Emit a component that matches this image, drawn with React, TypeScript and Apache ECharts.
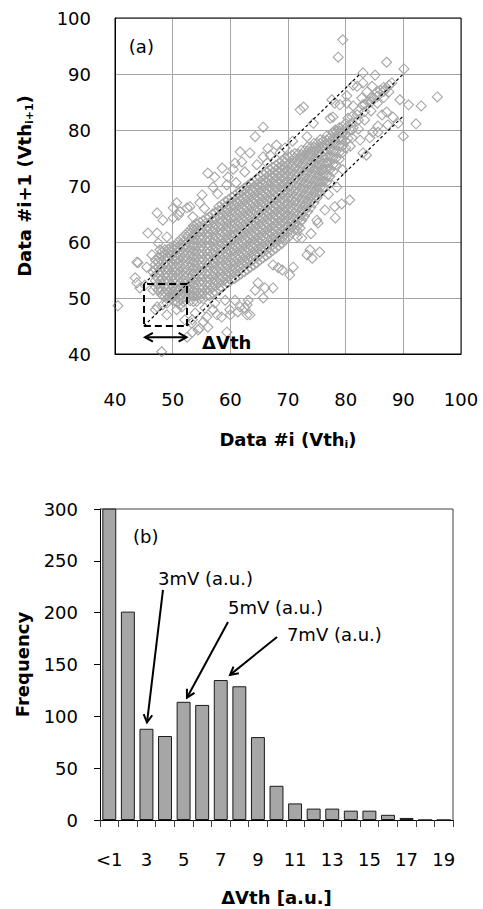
import React, { useEffect, useRef } from "react";
import * as echarts from "echarts";

const FONT = '"DejaVu Sans", sans-serif';

// ---------- (a) scatter: Data #i vs Data #i+1 ----------
const xTicksA = [40, 50, 60, 70, 80, 90, 100];
const yTicksA = [40, 50, 60, 70, 80, 90, 100];

// dense core of the cloud, read column by column: [x, [y...]]
const coreColumns: [number, number[]][] = [
  [47.0, [52.0, 53.1, 54.0, 55.1, 56.0, 56.8]],
  [48.1, [50.6, 51.5, 52.6, 53.5, 54.6, 55.5, 56.6, 57.5, 58.2]],
  [49.2, [50.1, 51.1, 52.0, 53.1, 54.0, 55.1, 56.0, 57.1, 58.0, 58.7]],
  [50.3, [49.5, 50.6, 51.5, 52.6, 53.5, 54.6, 55.5, 56.6, 57.5, 58.6, 59.3]],
  [51.4, [49.7, 50.7, 51.6, 52.7, 53.6, 54.7, 55.6, 56.7, 57.6, 58.7, 59.6, 60.5]],
  [52.5, [49.9, 51.0, 51.9, 53.0, 53.9, 55.0, 55.9, 57.0, 57.9, 59.0, 59.9, 61.0, 61.6]],
  [53.6, [49.4, 50.4, 51.3, 52.4, 53.3, 54.4, 55.3, 56.4, 57.3, 58.4, 59.3, 60.4, 61.3, 62.3, 62.9]],
  [54.7, [49.9, 50.9, 51.8, 52.9, 53.8, 54.9, 55.8, 56.9, 57.8, 58.9, 59.8, 60.9, 61.8, 62.8, 63.5]],
  [55.8, [50.3, 51.4, 52.3, 53.4, 54.3, 55.4, 56.3, 57.4, 58.3, 59.4, 60.3, 61.4, 62.3, 63.4, 64.2]],
  [56.9, [50.9, 51.9, 52.8, 53.9, 54.8, 55.9, 56.8, 57.9, 58.8, 59.9, 60.8, 61.9, 62.8, 63.9, 65.0]],
  [58.0, [51.7, 52.7, 53.6, 54.7, 55.6, 56.7, 57.6, 58.7, 59.6, 60.7, 61.6, 62.7, 63.6, 64.7, 65.6, 66.3]],
  [59.1, [52.4, 53.4, 54.3, 55.4, 56.3, 57.4, 58.3, 59.4, 60.3, 61.4, 62.3, 63.4, 64.3, 65.4, 66.3, 67.2]],
  [60.2, [53.2, 54.2, 55.1, 56.2, 57.1, 58.2, 59.1, 60.2, 61.1, 62.2, 63.1, 64.2, 65.1, 66.2, 67.1, 68.0]],
  [61.3, [53.9, 54.9, 55.8, 56.9, 57.8, 58.9, 59.8, 60.9, 61.8, 62.9, 63.8, 64.9, 65.8, 66.9, 67.8, 68.8]],
  [62.4, [54.7, 55.7, 56.6, 57.7, 58.6, 59.7, 60.6, 61.7, 62.6, 63.7, 64.6, 65.7, 66.6, 67.7, 68.6, 69.6]],
  [63.5, [55.5, 56.5, 57.4, 58.5, 59.4, 60.5, 61.4, 62.5, 63.4, 64.5, 65.4, 66.5, 67.4, 68.5, 69.4, 70.5]],
  [64.6, [56.3, 57.3, 58.2, 59.3, 60.2, 61.3, 62.2, 63.3, 64.2, 65.3, 66.2, 67.3, 68.2, 69.3, 70.2, 71.3]],
  [65.7, [57.2, 58.2, 59.1, 60.2, 61.1, 62.2, 63.1, 64.2, 65.1, 66.2, 67.1, 68.2, 69.1, 70.2, 71.1, 72.1]],
  [66.8, [58.0, 59.0, 59.9, 61.0, 61.9, 63.0, 63.9, 65.0, 65.9, 67.0, 67.9, 69.0, 69.9, 71.0, 71.9, 72.9]],
  [67.9, [58.9, 59.9, 60.8, 61.9, 62.8, 63.9, 64.8, 65.9, 66.8, 67.9, 68.8, 69.9, 70.8, 71.9, 72.8, 73.7]],
  [69.0, [59.8, 60.8, 61.7, 62.8, 63.7, 64.8, 65.7, 66.8, 67.7, 68.8, 69.7, 70.8, 71.7, 72.8, 73.7, 74.5]],
  [70.1, [60.9, 61.9, 62.8, 63.9, 64.8, 65.9, 66.8, 67.9, 68.8, 69.9, 70.8, 71.9, 72.8, 73.9, 75.2]],
  [71.2, [62.2, 63.2, 64.1, 65.2, 66.1, 67.2, 68.1, 69.2, 70.1, 71.2, 72.1, 73.2, 74.1, 75.0, 75.8]],
  [72.3, [63.8, 64.8, 65.7, 66.8, 67.7, 68.8, 69.7, 70.8, 71.7, 72.8, 73.7, 74.8, 75.6, 76.4]],
  [73.4, [65.4, 66.4, 67.3, 68.4, 69.3, 70.4, 71.3, 72.4, 73.3, 74.4, 75.3, 76.2, 77.0]],
  [74.5, [67.0, 68.0, 68.9, 70.0, 70.9, 72.0, 72.9, 74.0, 74.9, 76.0, 76.9, 77.6]],
  [75.6, [68.8, 69.8, 70.7, 71.8, 72.7, 73.8, 74.7, 75.8, 76.7, 77.6, 78.3]],
  [76.7, [70.7, 71.8, 72.9, 74.0, 75.1, 76.2, 77.3, 78.2, 78.9]],
  [77.8, [72.6, 73.8, 75.0, 76.2, 77.4, 78.5, 79.6]],
  [78.9, [74.8, 76.0, 77.2, 78.4, 79.5, 80.4]],
  [80.0, [76.8, 78.0, 79.2, 80.3, 81.2]],
  [81.1, [78.6, 80.0, 81.3, 82.4]],
  [82.2, [80.2, 81.8, 83.4]],
  [83.3, [81.8, 83.3, 84.6]],
  [84.4, [83.4, 85.0, 85.8]],
  [85.5, [84.8, 86.0, 86.8]],
  [86.6, [85.8, 86.9, 87.6]],
  [87.5, [86.8, 88.0]],
];

// second, interleaved pass over the core (the cloud is nearly solid there)
const coreColumnsB: [number, number[]][] = [
  [47.55, [51.5, 52.5, 53.5, 54.5, 55.5, 56.5, 57.3]],
  [48.65, [50.3, 51.0, 52.0, 53.0, 54.0, 55.0, 56.0, 57.0, 58.0, 58.6]],
  [49.75, [49.8, 50.6, 51.6, 52.5, 53.6, 54.5, 55.6, 56.5, 57.6, 58.5, 59.1]],
  [50.85, [49.2, 50.1, 51.0, 52.1, 53.0, 54.1, 55.0, 56.1, 57.0, 58.1, 59.0, 59.9]],
  [51.95, [49.3, 50.2, 51.2, 52.1, 53.2, 54.1, 55.2, 56.1, 57.2, 58.1, 59.2, 60.1, 61.0]],
  [53.05, [49.5, 50.4, 51.5, 52.4, 53.5, 54.4, 55.5, 56.4, 57.5, 58.4, 59.5, 60.4, 61.5, 62.2]],
  [54.15, [49.4, 50.4, 51.3, 52.4, 53.3, 54.4, 55.3, 56.4, 57.3, 58.4, 59.3, 60.4, 61.3, 62.3, 63.2]],
  [55.25, [49.9, 50.9, 51.8, 52.9, 53.8, 54.9, 55.8, 56.9, 57.8, 58.9, 59.8, 60.9, 61.8, 62.9, 63.8]],
  [56.35, [50.4, 51.4, 52.3, 53.4, 54.3, 55.4, 56.3, 57.4, 58.3, 59.4, 60.3, 61.4, 62.3, 63.4, 64.4]],
  [57.45, [51.1, 52.2, 53.1, 54.2, 55.1, 56.2, 57.1, 58.2, 59.1, 60.2, 61.1, 62.2, 63.1, 64.2, 65.3]],
  [58.55, [51.9, 52.9, 53.8, 54.9, 55.8, 56.9, 57.8, 58.9, 59.8, 60.9, 61.8, 62.9, 63.8, 64.9, 65.8, 66.7]],
  [59.65, [52.8, 53.8, 54.7, 55.8, 56.7, 57.8, 58.7, 59.8, 60.7, 61.8, 62.7, 63.8, 64.7, 65.8, 66.7, 67.5]],
  [60.75, [53.5, 54.5, 55.4, 56.5, 57.4, 58.5, 59.4, 60.5, 61.4, 62.5, 63.4, 64.5, 65.4, 66.5, 67.4, 68.3]],
  [61.85, [54.3, 55.3, 56.2, 57.3, 58.2, 59.3, 60.2, 61.3, 62.2, 63.3, 64.2, 65.3, 66.2, 67.3, 68.2, 69.1]],
  [62.95, [55.1, 56.1, 57.0, 58.1, 59.0, 60.1, 61.0, 62.1, 63.0, 64.1, 65.0, 66.1, 67.0, 68.1, 69.0, 70.0]],
  [64.05, [55.9, 56.9, 57.8, 58.9, 59.8, 60.9, 61.8, 62.9, 63.8, 64.9, 65.8, 66.9, 67.8, 68.9, 69.8, 70.8]],
  [65.15, [56.8, 57.8, 58.7, 59.8, 60.7, 61.8, 62.7, 63.8, 64.7, 65.8, 66.7, 67.8, 68.7, 69.8, 70.7, 71.6]],
  [66.25, [57.6, 58.6, 59.5, 60.6, 61.5, 62.6, 63.5, 64.6, 65.5, 66.6, 67.5, 68.6, 69.5, 70.6, 71.5, 72.4]],
  [67.35, [58.5, 59.5, 60.4, 61.5, 62.4, 63.5, 64.4, 65.5, 66.4, 67.5, 68.4, 69.5, 70.4, 71.5, 72.4, 73.3]],
  [68.45, [59.4, 60.4, 61.3, 62.4, 63.3, 64.4, 65.3, 66.4, 67.3, 68.4, 69.3, 70.4, 71.3, 72.4, 73.3, 74.1]],
  [69.55, [60.4, 61.4, 62.3, 63.4, 64.3, 65.4, 66.3, 67.4, 68.3, 69.4, 70.3, 71.4, 72.3, 73.4, 74.3, 75.0]],
  [70.65, [61.6, 62.6, 63.5, 64.6, 65.5, 66.6, 67.5, 68.6, 69.5, 70.6, 71.5, 72.6, 73.5, 74.5, 75.5]],
  [71.75, [63.0, 64.0, 64.9, 66.0, 66.9, 68.0, 68.9, 70.0, 70.9, 72.0, 72.9, 74.0, 74.8, 75.7]],
  [72.85, [64.6, 65.6, 66.5, 67.6, 68.5, 69.6, 70.5, 71.6, 72.5, 73.6, 74.5, 75.5, 76.3]],
  [73.95, [66.2, 67.2, 68.1, 69.2, 70.1, 71.2, 72.1, 73.2, 74.1, 75.2, 76.1, 76.9]],
  [75.05, [67.9, 68.9, 69.8, 70.9, 71.8, 72.9, 73.8, 74.9, 75.8, 76.8, 77.6]],
  [76.15, [69.8, 70.8, 71.8, 72.9, 74.0, 75.1, 76.2, 77.2, 78.1]],
  [77.25, [71.7, 72.9, 74.1, 75.3, 76.5, 77.6, 78.6]],
  [78.35, [73.8, 75.0, 76.2, 77.4, 78.6, 79.7]],
  [79.45, [76.0, 77.2, 78.4, 79.6, 80.6]],
];

const haloUpperLeft: number[][] = [
  [43.8, 56.4], [45.5, 55.5], [46.6, 54.6], [46.4, 57.7], [47.8, 58.6], [47.3, 61.6],
  [49.0, 60.9], [48.3, 63.9], [50.1, 64.3], [51.3, 65.4], [52.5, 66.1], [50.1, 66.1],
  [47.3, 65.2], [54.7, 67.0], [50.7, 67.0], [53.0, 66.3], [51.0, 64.8], [55.1, 68.4],
  [57.0, 69.8], [59.4, 70.2], [59.6, 71.6], [56.1, 72.3], [57.3, 71.6], [58.6, 73.2],
  [60.8, 74.1], [62.0, 74.3], [63.4, 75.9], [64.3, 78.8], [65.7, 75.2], [66.4, 74.1],
  [68.0, 77.3], [65.7, 80.5], [61.7, 76.1], [66.5, 76.7], [68.6, 75.9], [64.6, 73.8],
  [73.3, 78.8], [75.9, 77.0], [74.4, 81.2], [72.1, 83.6], [72.7, 84.1], [73.8, 75.9],
  [45.7, 61.6], [47.5, 59.8], [44.0, 56.3], [43.5, 53.6], [60.5, 73.0], [53.5, 64.5],
  [55.5, 66.0], [57.8, 68.6], [61.0, 70.6], [62.5, 72.5], [66.9, 75.5], [69.5, 76.8],
  [70.8, 78.0],
];

const haloLowerLeft: number[][] = [
  [43.8, 52.7], [44.3, 51.8], [45.2, 52.3], [46.6, 51.4], [47.3, 48.4], [49.0, 49.1],
  [50.1, 50.5], [50.7, 47.9], [51.6, 48.4], [40.5, 48.6], [48.1, 40.4], [47.5, 51.4],
  [48.3, 48.8], [47.0, 47.9], [49.0, 47.0], [51.3, 48.8], [49.5, 50.2], [51.0, 51.4],
  [52.7, 51.4], [53.4, 46.1], [53.9, 47.3], [55.6, 48.2], [57.3, 49.1], [59.1, 49.6],
  [60.8, 49.6], [61.3, 47.5], [59.9, 47.9], [62.9, 48.8], [58.5, 46.6], [55.3, 45.7],
  [54.4, 44.3], [53.4, 43.9], [56.1, 44.8], [59.4, 43.9], [60.0, 47.0], [61.7, 48.4],
  [62.9, 47.0], [57.7, 47.0], [57.0, 47.9], [55.9, 46.6], [54.7, 44.6], [52.1, 46.1],
  [53.3, 45.5], [52.5, 43.0],
];

const haloLowerRight: number[][] = [
  [67.4, 55.9], [68.3, 55.4], [70.9, 55.5], [70.3, 54.1], [73.3, 57.7], [74.2, 57.1],
  [75.5, 58.2], [73.8, 58.6], [64.8, 52.7], [64.3, 51.4], [66.0, 51.8], [67.4, 51.8],
  [65.7, 50.0], [63.1, 49.6], [62.5, 48.2], [63.4, 47.0], [69.0, 55.0], [78.2, 64.3],
  [75.2, 63.4], [78.1, 66.3], [80.7, 67.5], [76.4, 65.7], [71.6, 60.9], [72.1, 62.5],
  [75.0, 63.9], [79.3, 66.8], [77.3, 70.5], [75.9, 72.9], [79.5, 72.9], [76.8, 74.3],
  [83.6, 75.5], [72.4, 60.7], [71.6, 62.1], [72.4, 63.9], [74.0, 61.5], [77.0, 68.5],
  [78.5, 69.8], [83.0, 75.9],
];

const haloUpperRight: number[][] = [
  [78.2, 80.0], [78.2, 77.9], [80.4, 78.5], [82.5, 78.2], [84.7, 79.6], [85.6, 80.7],
  [87.3, 80.9], [86.3, 82.7], [84.2, 78.6], [90.0, 78.9], [92.2, 81.1], [89.1, 81.2],
  [85.6, 79.6], [77.6, 85.4], [80.2, 84.8], [78.1, 84.8], [77.3, 82.1], [83.0, 84.5],
  [81.3, 84.3], [82.0, 82.7], [82.8, 85.7], [80.2, 86.1], [82.0, 87.8], [84.6, 87.8],
  [84.8, 85.7], [88.0, 88.4], [86.8, 87.2], [81.3, 88.0], [83.7, 86.8], [86.0, 87.1],
  [79.0, 84.5], [77.8, 82.3], [83.0, 90.2], [85.1, 89.8], [87.1, 92.1], [90.1, 90.9],
  [78.7, 93.0], [79.5, 96.1], [95.9, 85.9], [90.9, 84.5], [93.1, 84.3], [80.8, 77.1],
  [81.3, 80.4], [79.0, 79.8], [77.8, 79.5], [80.4, 82.1], [83.9, 85.0], [87.1, 83.2],
  [88.2, 82.3], [89.4, 85.4], [83.0, 88.4],
];

// ---------- (b) histogram of ΔVth ----------
const dVthCategories = [
  "<1", "2", "3", "4", "5", "6", "7", "8", "9", "10",
  "11", "12", "13", "14", "15", "16", "17", "18", "19",
];
// first bin runs off the top of the 0–300 scale
const frequency = [330, 201, 88, 81, 114, 111, 135, 129, 80, 33, 16, 11, 11, 9, 9, 5, 2, 0, 0];

const GRID_A = { left: 115, top: 18, width: 346, height: 336 };
const GRID_B = { left: 100, top: 509, width: 353, height: 311 };

export default function App() {
  const ref = useRef<HTMLDivElement>(null);

  useEffect(() => {
    if (!ref.current) return;
    const chart = echarts.init(ref.current, null, { renderer: "svg" });

    const scatterData: number[][] = [
      ...coreColumns.flatMap(([x, ys]) => ys.map((y) => [x, y])),
      ...coreColumnsB.flatMap(([x, ys]) => ys.map((y) => [x, y])),
      ...haloUpperLeft,
      ...haloLowerLeft,
      ...haloLowerRight,
      ...haloUpperRight,
    ];

    const tickLabel = { fontFamily: FONT, fontSize: 18, color: "#000" };
    const titleRich = {
      t: { fontFamily: FONT, fontWeight: "bold", fontSize: 18, color: "#000" },
      s: { fontFamily: FONT, fontWeight: "bold", fontSize: 11, color: "#000", padding: [10, 0, 0, 0] },
    };

    const dash = { color: "#000", width: 1.2, type: [3, 2.5] };
    const boxDash = { color: "#000", width: 2, type: [7, 4] };

    chart.setOption({
      animation: false,
      backgroundColor: "#fff",
      grid: [
        { ...GRID_A, show: false },
        { ...GRID_B, show: false },
      ],
      xAxis: [
        {
          gridIndex: 0,
          type: "value",
          min: xTicksA[0],
          max: xTicksA[xTicksA.length - 1],
          interval: 10,
          axisLine: { show: true, onZero: false, lineStyle: { color: "#000", width: 1 } },
          axisTick: { show: false },
          splitLine: { show: true, lineStyle: { color: "#a6a6a6", width: 1 } },
          axisLabel: { ...tickLabel, margin: 36 },
          name: "{t|Data #i (Vth}{s|i}{t|)}",
          nameLocation: "middle",
          nameGap: 75,
          nameTextStyle: { rich: titleRich },
        },
        {
          gridIndex: 1,
          type: "category",
          data: dVthCategories,
          axisLine: { show: true, lineStyle: { color: "#000", width: 1 } },
          axisTick: { show: true, interval: 0, alignWithLabel: false, length: 7, lineStyle: { color: "#404040" } },
          axisLabel: { ...tickLabel, margin: 30, interval: 1 },
          splitLine: { show: false },
          name: "{t|ΔVth [a.u.]}",
          nameLocation: "middle",
          nameGap: 68,
          nameTextStyle: { rich: titleRich },
        },
      ],
      yAxis: [
        {
          gridIndex: 0,
          type: "value",
          min: yTicksA[0],
          max: yTicksA[yTicksA.length - 1],
          interval: 10,
          axisLine: { show: true, onZero: false, lineStyle: { color: "#000", width: 1 } },
          axisTick: { show: false },
          splitLine: { show: true, lineStyle: { color: "#a6a6a6", width: 1 } },
          axisLabel: { ...tickLabel, margin: 24 },
          name: "{t|Data #i+1 (Vth}{s|i+1}{t|)}",
          nameLocation: "middle",
          nameGap: 80,
          nameTextStyle: { rich: titleRich },
        },
        {
          gridIndex: 1,
          type: "value",
          min: 0,
          max: 300,
          interval: 50,
          axisLine: { show: true, lineStyle: { color: "#000", width: 1 } },
          axisTick: { show: true, length: 6, lineStyle: { color: "#000" } },
          splitLine: { show: false },
          axisLabel: { ...tickLabel, margin: 22 },
          name: "{t|Frequency}",
          nameLocation: "middle",
          nameGap: 69,
          nameTextStyle: { rich: titleRich },
        },
      ],
      series: [
        {
          type: "scatter",
          xAxisIndex: 0,
          yAxisIndex: 0,
          data: scatterData,
          symbol: "diamond",
          symbolSize: 10,
          itemStyle: { color: "rgba(0,0,0,0)", borderColor: "#a6a6a6", borderWidth: 1.1, opacity: 1 },
          silent: true,
          markLine: {
            silent: true,
            z: 10,
            symbol: ["none", "none"],
            label: { show: false },
            data: [
              [{ coord: [45, 52.5], lineStyle: dash }, { coord: [82.5, 90] }],
              [{ coord: [45, 45], lineStyle: dash }, { coord: [90, 90] }],
              [{ coord: [52.5, 45], lineStyle: dash }, { coord: [90, 82.5] }],
              [{ coord: [45, 45], lineStyle: boxDash }, { coord: [52.5, 45] }],
              [{ coord: [52.5, 45], lineStyle: boxDash }, { coord: [52.5, 52.5] }],
              [{ coord: [52.5, 52.5], lineStyle: boxDash }, { coord: [45, 52.5] }],
              [{ coord: [45, 52.5], lineStyle: boxDash }, { coord: [45, 45] }],
            ],
          },
        },
        {
          type: "bar",
          xAxisIndex: 1,
          yAxisIndex: 1,
          data: frequency,
          barCategoryGap: "25%",
          clip: true,
          itemStyle: { color: "#a6a6a6", borderColor: "#1a1a1a", borderWidth: 1 },
          silent: true,
        },
      ],
    });

    const pa = (v: number[]) => chart.convertToPixel({ gridIndex: 0 }, v) as number[];
    // category axis rounds fractional indices, so map the index linearly from the band width
    const band = GRID_B.width / dVthCategories.length;
    const pb = (v: number[]) => {
      const yPix = (chart.convertToPixel({ gridIndex: 1 }, [0, v[1]]) as number[])[1];
      return [GRID_B.left + (v[0] + 0.5) * band, yPix];
    };

    const arrowHead = (from: number[], to: number[], len = 9, ang = 0.5) => {
      const a = Math.atan2(to[1] - from[1], to[0] - from[0]);
      return [
        [to[0] - len * Math.cos(a - ang), to[1] - len * Math.sin(a - ang)],
        [to[0], to[1]],
        [to[0] - len * Math.cos(a + ang), to[1] - len * Math.sin(a + ang)],
      ];
    };
    const stroke = { stroke: "#000", lineWidth: 2, fill: "none" };
    const arrow = (from: number[], to: number[], both = false) => {
      const els: any[] = [
        { type: "line", shape: { x1: from[0], y1: from[1], x2: to[0], y2: to[1] }, style: stroke, z: 50 },
        { type: "polyline", shape: { points: arrowHead(from, to) }, style: stroke, z: 50 },
      ];
      if (both) els.push({ type: "polyline", shape: { points: arrowHead(to, from) }, style: stroke, z: 50 });
      return els;
    };
    const label = (pos: number[], text: string, bold = false) => ({
      type: "text",
      x: pos[0],
      y: pos[1],
      z: 50,
      style: {
        text,
        fill: "#000",
        fontFamily: FONT,
        fontSize: 18,
        fontWeight: bold ? "bold" : "normal",
        align: "left",
        verticalAlign: "middle",
      },
    });

    const a00 = pa([40, 100]);
    const a11 = pa([100, 40]);
    const bTop = GRID_B.top;
    const bBottom = GRID_B.top + GRID_B.height;
    const bLeft = GRID_B.left;
    const bRight = GRID_B.left + GRID_B.width;

    chart.setOption({
      graphic: [
        {
          type: "rect",
          shape: { x: a00[0], y: a00[1], width: a11[0] - a00[0], height: a11[1] - a00[1] },
          style: { fill: "none", stroke: "#000", lineWidth: 1 },
          z: 40,
        },
        {
          type: "polyline",
          shape: { points: [[bLeft, bTop], [bRight, bTop], [bRight, bBottom]] },
          style: { fill: "none", stroke: "#404040", lineWidth: 1 },
          z: 40,
        },
        label(pa([42.4, 95]), "(a)"),
        label(pa([55.1, 42.0]), "ΔVth", true),
        ...arrow(pa([45.2, 43.0]), pa([52.4, 43.0]), true),
        label(pb([1.28, 273]), "(b)"),
        label(pb([2.62, 233]), "3mV (a.u.)"),
        ...arrow(pb([2.89, 222]), pb([2.03, 94])),
        label(pb([6.39, 205]), "5mV (a.u.)"),
        ...arrow(pb([6.39, 191]), pb([4.18, 118])),
        label(pb([9.56, 179]), "7mV (a.u.)"),
        ...arrow(pb([9.03, 176.5]), pb([6.5, 140])),
      ],
    });

    return () => chart.dispose();
  }, []);

  return (
    <div
      ref={ref}
      style={{ position: "absolute", left: 0, top: 0, width: 483, height: 909 }}
    />
  );
}
